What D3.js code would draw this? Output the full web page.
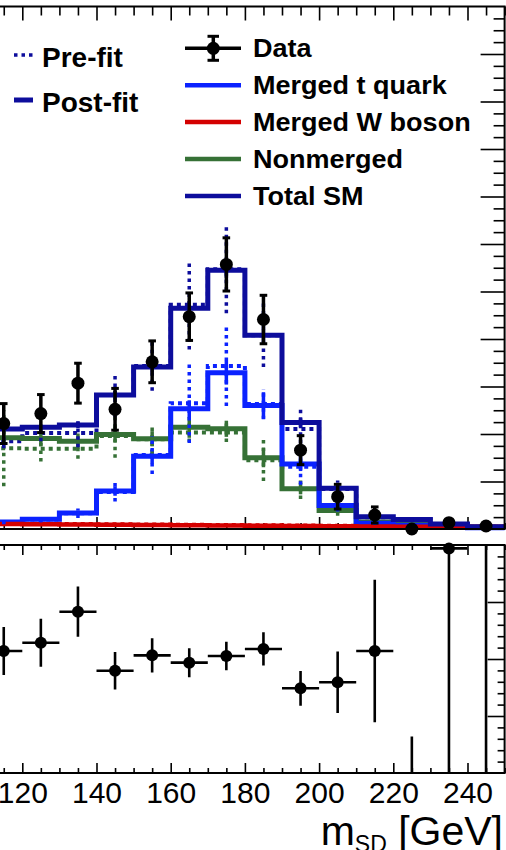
<!DOCTYPE html>
<html>
<head>
<meta charset="utf-8">
<script src="https://cdn.jsdelivr.net/npm/d3@7"></script>
<style>
  html, body { margin: 0; padding: 0; background: #fff; }
  svg { display: block; font-family: "Liberation Sans", Arial, Helvetica, sans-serif; }
</style>
</head>
<body>
<svg id="chart" width="506" height="850"></svg>
<script>
// ---- data: soft-drop mass bins (10 GeV wide), centres in GeV ----
const binCenters = [115, 125, 135, 145, 155, 165, 175, 185, 195, 205, 215, 225, 235, 245];

// observed events and their uncertainties
const dataVals = [22.2, 24.3, 30.7, 25.2, 35.2, 44.7, 55.7, 44.1, 16.6, 6.8, 2.95, 0, 1.33, 0.63];
const dataErr  = [4.2, 4.0, 4.2, 4.4, 4.4, 5.0, 5.6, 5.1, 3.05, 2.6, 1.7, 0, 1.0, 0.6];

// post-fit templates
const postTotal = [21.05, 21.4, 21.9, 28.2, 34.1, 46.5, 54.5, 40.8, 22.4, 8.6, 2.6, 2.0, 1.05, 0.48];
const postTop   = [1.47, 2.04, 3.37, 8.0, 15.3, 25.3, 32.9, 26.0, 13.7, 4.95, 1.2, 0.8, 0.5, 0.25];
const postW     = [1.05, 1.0, 0.95, 0.9, 0.85, 0.8, 0.75, 0.7, 0.65, 0.6, 0.55, 0.5, 0.48, 0.45];
const postNon   = [19.2, 19.05, 18.5, 19.9, 19.0, 21.4, 21.1, 15.0, 8.5, 3.9, 1.5, 1.0, 0.6, 0.35];
const postTotalErr = [0.6, 0.6, 0.7, 0.9, 1.1, 1.4, 1.6, 1.3, 0.9, 0.5, 0.25, 0.2, 0.15, 0.1];
const postTopErr   = [0.3, 0.4, 0.5, 1.0, 1.5, 1.8, 2.5, 2.8, 1.5, 0.6, 0.3, 0.2, 0.1, 0.1];
const postNonErr   = [1.5, 1.5, 1.6, 1.6, 1.6, 2.2, 1.7, 2.0, 1.2, 0.6, 0.3, 0.2, 0.15, 0.1];

// pre-fit templates
const preTotal = [18.5, 20.2, 20.2, 28.2, 34.3, 47.2, 54.7, 40.8, 21.05, 8.4, 2.5, 1.9, 1.0, 0.45];
const preTop   = [1.4, 2.0, 3.3, 7.8, 15.6, 26.5, 34.3, 26.3, 13.1, 4.9, 1.3, 0.8, 0.5, 0.3];
const preW     = [1.15, 1.1, 1.05, 1.0, 0.95, 0.9, 0.85, 0.8, 0.75, 0.7, 0.65, 0.6, 0.55, 0.5];
const preNon   = [17.0, 16.9, 16.9, 19.6, 18.9, 20.3, 20.3, 14.5, 8.4, 3.8, 1.35, 0.8, 0.5, 0.3];
const preTotalErr = [1.5, 1.7, 3.0, 4.6, 5.2, 9.4, 9.3, 6.7, 4.6, 1.8, 0.6, 0.4, 0.2, 0.1];
const preTopErr   = [0.4, 0.6, 1.0, 2.0, 4.0, 8.4, 8.4, 3.2, 3.8, 1.2, 0.4, 0.3, 0.2, 0.1];
const preNonErr   = [8.0, 2.7, 2.1, 4.6, 3.0, 2.0, 2.0, 4.4, 2.1, 1.0, 0.4, 0.3, 0.2, 0.1];

// data / prediction in the lower panel
const ratioVals = [1.07, 1.143, 1.415, 0.897, 1.032, 0.968, 1.026, 1.088, 0.743, 0.796, 1.07, 0, 1.97, 2.6];
const ratioErr  = [0.21, 0.21, 0.22, 0.165, 0.15, 0.127, 0.125, 0.146, 0.152, 0.27, 0.625, 0.32, 2.3, 2.8];

// axis tick labels
const xTickLabels = [120, 140, 160, 180, 200, 220, 240];

// legend entries
const legendLeft = ["Pre-fit", "Post-fit"];
const legendRight = ["Data", "Merged t quark", "Merged W boson", "Nonmerged", "Total SM"];

// ---- layout ----
const binW = 10;
const xLo = 100, xHi = 250;
const x = d3.scaleLinear().domain([140, 240]).range([96.5, 467.5]);
const yTop = d3.scaleLinear().domain([0, 110]).range([529, 6.5]);
const yRat = d3.scaleLinear().domain([0, 2]).range([773, 545]);

const cTotal = "#0d0d9c", cTop = "#0b22ff", cW = "#d40000", cNon = "#367136";

const svg = d3.select("#chart");
svg.append("rect").attr("width", 506).attr("height", 850).attr("fill", "#fff");

svg.append("defs").append("clipPath").attr("id", "ratioClip")
  .append("rect").attr("x", x(xLo)).attr("y", yRat(2)).attr("width", x(xHi) - x(xLo)).attr("height", yRat(0) - yRat(2));

// ---- tick helpers ----
function ticks(g, axis, values, size, sw) {
  g.call(axis.tickValues(values).tickSize(size).tickFormat(""));
  g.select(".domain").remove();
  g.selectAll(".tick line").attr("stroke", "#000").attr("stroke-width", sw || 1.6);
}
const xMajor = d3.range(xLo, xHi + 1, 20);
const xMinor = d3.range(xLo, xHi + 1, 5).filter(v => v % 20 !== 0);

// upper panel ticks
ticks(svg.append("g").attr("transform", `translate(0,${yTop(110)})`), d3.axisBottom(x), xMajor, 14);
ticks(svg.append("g").attr("transform", `translate(0,${yTop(110)})`), d3.axisBottom(x), xMinor, 9);
ticks(svg.append("g").attr("transform", `translate(0,${yTop(0)})`), d3.axisTop(x), xMajor, 12);
ticks(svg.append("g").attr("transform", `translate(0,${yTop(0)})`), d3.axisTop(x), xMinor, 6);
ticks(svg.append("g").attr("transform", `translate(${x(xHi)},0)`), d3.axisLeft(yTop), d3.range(10, 110, 10), 24);
ticks(svg.append("g").attr("transform", `translate(${x(xHi)},0)`), d3.axisLeft(yTop),
  d3.range(2.5, 110, 2.5).filter(v => v % 10 !== 0), 11);

// lower panel ticks
ticks(svg.append("g").attr("transform", `translate(0,${yRat(2)})`), d3.axisBottom(x), xMajor, 10);
ticks(svg.append("g").attr("transform", `translate(0,${yRat(2)})`), d3.axisBottom(x), xMinor, 5);
ticks(svg.append("g").attr("transform", `translate(0,${yRat(0)})`), d3.axisTop(x), xMajor, 10);
ticks(svg.append("g").attr("transform", `translate(0,${yRat(0)})`), d3.axisTop(x), xMinor, 5);
ticks(svg.append("g").attr("transform", `translate(${x(xHi)},0)`), d3.axisLeft(yRat), [0.5, 1, 1.5], 17);
ticks(svg.append("g").attr("transform", `translate(${x(xHi)},0)`), d3.axisLeft(yRat),
  d3.range(1, 20).map(v => v / 10).filter(v => Math.abs(v * 2 - Math.round(v * 2)) > 1e-6), 7);

// x tick labels under the lower panel
const xLab = svg.append("g").attr("transform", `translate(0,${yRat(0)})`)
  .call(d3.axisBottom(x).tickValues(xTickLabels).tickSize(0).tickPadding(9).tickFormat(d3.format("d")));
xLab.select(".domain").remove();
xLab.selectAll("text").attr("font-size", 30).attr("fill", "#000")
  .attr("font-family", "'Liberation Sans', Arial, Helvetica, sans-serif");

// ---- histograms ----
function stepPoints(vals) {
  const p = vals.map((v, i) => [binCenters[i] - binW / 2, v]);
  p.push([binCenters[binCenters.length - 1] + binW / 2, vals[vals.length - 1]]);
  return p;
}
const step = d3.line().x(d => x(d[0])).y(d => yTop(d[1])).curve(d3.curveStepAfter);

const gHist = svg.append("g").attr("fill", "none");
function drawHist(vals, color, width, dash) {
  gHist.append("path").attr("d", step(stepPoints(vals)))
    .attr("stroke", color).attr("stroke-width", width)
    .attr("stroke-dasharray", dash || null);
}
function drawErr(vals, errs, color, width, dash) {
  const d = vals.map((v, i) => ({ c: binCenters[i], v, e: errs[i] }));
  gHist.append("g").selectAll("line").data(d).join("line")
    .attr("x1", p => x(p.c)).attr("x2", p => x(p.c))
    .attr("y1", p => yTop(Math.max(0, p.v - p.e))).attr("y2", p => yTop(p.v + p.e))
    .attr("stroke", color).attr("stroke-width", width)
    .attr("stroke-dasharray", dash || null);
}

// pre-fit (dotted)
drawHist(preNon, cNon, 4, "4,4");
drawHist(preTop, cTop, 4, "4,4");
drawHist(preW, cW, 4, "4,4");
drawHist(preTotal, cTotal, 4, "4,4");

// post-fit (solid)
drawHist(postNon, cNon, 5);
drawHist(postTop, cTop, 5);
drawHist(postW, cW, 4.5);
drawHist(postTotal, cTotal, 5);

drawErr(postNon, postNonErr, cNon, 3.5);
drawErr(postTop, postTopErr, cTop, 3.5);
drawErr(postTotal, postTotalErr, cTotal, 3.5);

drawErr(preNon, preNonErr, cNon, 3.5, "3.5,4");
drawErr(preTop, preTopErr, cTop, 3.5, "3.5,4");
drawErr(preTotal, preTotalErr, cTotal, 3.5, "3.5,4");

// ---- frames ----
svg.append("rect").attr("x", x(xLo)).attr("y", yTop(110)).attr("width", x(xHi) - x(xLo))
  .attr("height", yTop(0) - yTop(110)).attr("fill", "none").attr("stroke", "#000").attr("stroke-width", 2);
svg.append("rect").attr("x", x(xLo)).attr("y", yRat(2)).attr("width", x(xHi) - x(xLo))
  .attr("height", yRat(0) - yRat(2)).attr("fill", "none").attr("stroke", "#000").attr("stroke-width", 2);

// ---- data points (upper) ----
const pts = binCenters.map((c, i) => ({ c, v: dataVals[i], e: dataErr[i] }));
const gData = svg.append("g").attr("stroke", "#000").attr("fill", "#000");
const withErr = pts.filter(p => p.e > 0);
gData.selectAll("line.v").data(withErr).join("line").attr("class", "v")
  .attr("x1", p => x(p.c)).attr("x2", p => x(p.c))
  .attr("y1", p => yTop(p.v - p.e)).attr("y2", p => yTop(p.v + p.e)).attr("stroke-width", 3.5);
[-1, 1].forEach(s => {
  gData.selectAll(`line.cap${s}`).data(withErr.filter(p => p.e > 1.5)).join("line").attr("class", `cap${s}`)
    .attr("x1", p => x(p.c) - 3.8).attr("x2", p => x(p.c) + 3.8)
    .attr("y1", p => yTop(p.v + s * p.e)).attr("y2", p => yTop(p.v + s * p.e)).attr("stroke-width", 3);
});
gData.selectAll("circle").data(pts).join("circle")
  .attr("cx", p => x(p.c)).attr("cy", p => yTop(p.v)).attr("r", 6.5).attr("stroke", "none");

// ---- ratio points (lower) ----
const rpts = binCenters.map((c, i) => ({ c, v: ratioVals[i], e: ratioErr[i] }));
const gRat = svg.append("g").attr("stroke", "#000").attr("fill", "#000");
const gRatClip = gRat.append("g").attr("clip-path", "url(#ratioClip)");
gRatClip.selectAll("line.v").data(rpts).join("line").attr("class", "v")
  .attr("x1", p => x(p.c)).attr("x2", p => x(p.c))
  .attr("y1", p => yRat(p.v - p.e)).attr("y2", p => yRat(p.v + p.e)).attr("stroke-width", 2.6);
gRatClip.selectAll("line.h").data(rpts.filter(p => p.v > 0)).join("line").attr("class", "h")
  .attr("x1", p => x(p.c - binW / 2)).attr("x2", p => x(p.c + binW / 2))
  .attr("y1", p => yRat(p.v)).attr("y2", p => yRat(p.v)).attr("stroke-width", 2.6);
gRat.selectAll("circle").data(rpts.filter(p => p.v > 0 && p.v <= 2)).join("circle")
  .attr("cx", p => x(p.c)).attr("cy", p => yRat(p.v)).attr("r", 6).attr("stroke", "none");

// ---- legends ----
const gLeg = svg.append("g");
const leftY = [55, 100];
gLeg.append("line").attr("x1", 14).attr("x2", 34).attr("y1", leftY[0]).attr("y2", leftY[0])
  .attr("stroke", cTotal).attr("stroke-width", 3.5).attr("stroke-dasharray", "3.5,4");
gLeg.append("line").attr("x1", 14).attr("x2", 33).attr("y1", leftY[1]).attr("y2", leftY[1])
  .attr("stroke", cTotal).attr("stroke-width", 5);
gLeg.selectAll("text.l").data(legendLeft).join("text").attr("class", "l")
  .attr("x", 42).attr("y", (d, i) => leftY[i] + 12).attr("font-size", 28).attr("font-weight", "bold")
  .text(d => d);

const rowY = legendRight.map((d, i) => 48.3 + i * 36.9);
const rowColor = ["#000", cTop, cW, cNon, cTotal];
legendRight.forEach((name, i) => {
  if (i === 0) {
    gLeg.append("line").attr("x1", 185).attr("x2", 241).attr("y1", rowY[0]).attr("y2", rowY[0])
      .attr("stroke", "#000").attr("stroke-width", 3.5);
    gLeg.append("line").attr("x1", 213.3).attr("x2", 213.3).attr("y1", rowY[0] - 12).attr("y2", rowY[0] + 12)
      .attr("stroke", "#000").attr("stroke-width", 3.5);
    [-12, 12].forEach(o => gLeg.append("line").attr("x1", 207.5).attr("x2", 219).attr("y1", rowY[0] + o)
      .attr("y2", rowY[0] + o).attr("stroke", "#000").attr("stroke-width", 3));
    gLeg.append("circle").attr("cx", 213.3).attr("cy", rowY[0]).attr("r", 6.5).attr("fill", "#000");
  } else {
    gLeg.append("line").attr("x1", 185).attr("x2", 241).attr("y1", rowY[i]).attr("y2", rowY[i])
      .attr("stroke", rowColor[i]).attr("stroke-width", 4.5);
  }
  // legend labels are set slightly wide, like the rest of the bold legend face
  gLeg.append("text").attr("transform", `translate(253,${rowY[i] + 9}) scale(1.06,1)`)
    .attr("font-size", 25.5).attr("font-weight", "bold").text(name);
});

// ---- x-axis title ----
const title = svg.append("text").attr("x", 503).attr("y", 845).attr("text-anchor", "end")
  .attr("font-size", 41).attr("fill", "#000");
title.append("tspan").text("m");
title.append("tspan").attr("font-size", 23).attr("dy", 7).text("SD");
title.append("tspan").attr("dy", -7).text(" [GeV]");
</script>
</body>
</html>
